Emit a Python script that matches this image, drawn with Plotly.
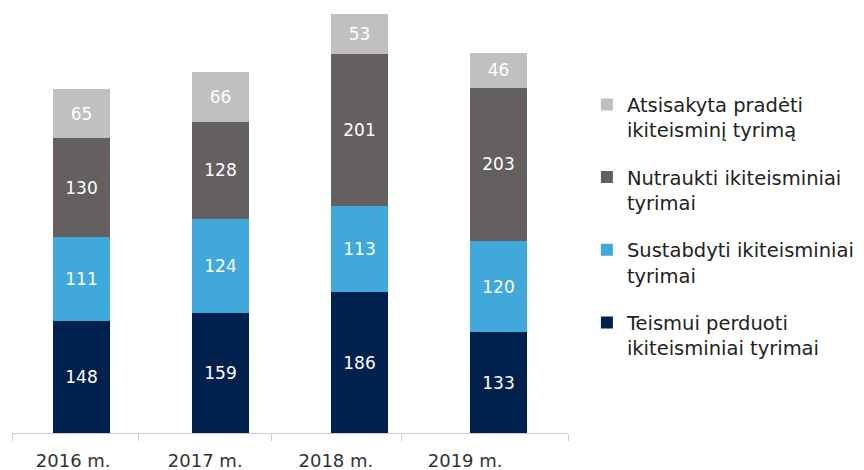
import plotly.graph_objects as go

years = ["2016 m.", "2017 m.", "2018 m.", "2019 m."]
teismui = [148, 159, 186, 133]
sustabdyti = [111, 124, 113, 120]
nutraukti = [130, 128, 201, 203]
atsisakyta = [65, 66, 53, 46]

names = [
    "Teismui perduoti<br>ikiteisminiai tyrimai",
    "Sustabdyti ikiteisminiai<br>tyrimai",
    "Nutraukti ikiteisminiai<br>tyrimai",
    "Atsisakyta pradėti<br>ikiteisminį tyrimą",
]
colors = ["#00214d", "#41a8db", "#656060", "#c0c0c0"]
series = [teismui, sustabdyti, nutraukti, atsisakyta]
ranks = [4, 3, 2, 1]

# axis label / tick-mark positions (in category index units)
label_pos = [-0.06, 0.89, 1.83, 2.76]
tick_pos = [-0.5, 0.41, 1.37, 2.30, 3.5]

FONT = "DejaVu Sans"
xidx = list(range(len(years)))

fig = go.Figure()
for i, (n, c, s, r) in enumerate(zip(names, colors, series, ranks)):
    fig.add_trace(go.Bar(
        x=xidx, y=s, name=n, marker=dict(color=c, line=dict(width=0)),
        width=0.41, text=s, textposition="inside", insidetextanchor="middle",
        textfont=dict(color="white", size=17, family=FONT), legendgroup=f"g{i}",
        legendrank=r, hoverinfo="skip",
    ))

fig.update_layout(
    barmode="stack",
    width=864, height=470,
    margin=dict(l=12, r=296, t=14, b=37, autoexpand=False),
    plot_bgcolor="white", paper_bgcolor="white",
    font=dict(family=FONT, color="#333333", size=18),
    showlegend=True,
    legend=dict(
        x=1.034, xanchor="left", y=0.83, yanchor="top",
        traceorder="grouped", tracegroupgap=19, valign="top",
        font=dict(size=19.5, color="#222222", family=FONT),
        itemwidth=30,
    ),
    xaxis=dict(
        type="linear", range=[-0.5, 3.5], automargin=False,
        showline=True, linecolor="#cccccc", linewidth=1,
        tickmode="array", tickvals=label_pos, ticktext=years, ticks="",
        tickfont=dict(size=18, color="#333333", family=FONT), showgrid=False,
        zeroline=False, ticklabelstandoff=11,
        minor=dict(tickmode="array", tickvals=tick_pos, ticks="outside",
                   ticklen=7, tickcolor="#cccccc", showgrid=False),
    ),
    yaxis=dict(range=[0, 553], visible=False, showgrid=False, automargin=False),
    uniformtext=dict(minsize=10, mode="show"),
)

fig.write_html("out.html", post_script="document.body.style.margin='0';",
               config={"displayModeBar": False})
